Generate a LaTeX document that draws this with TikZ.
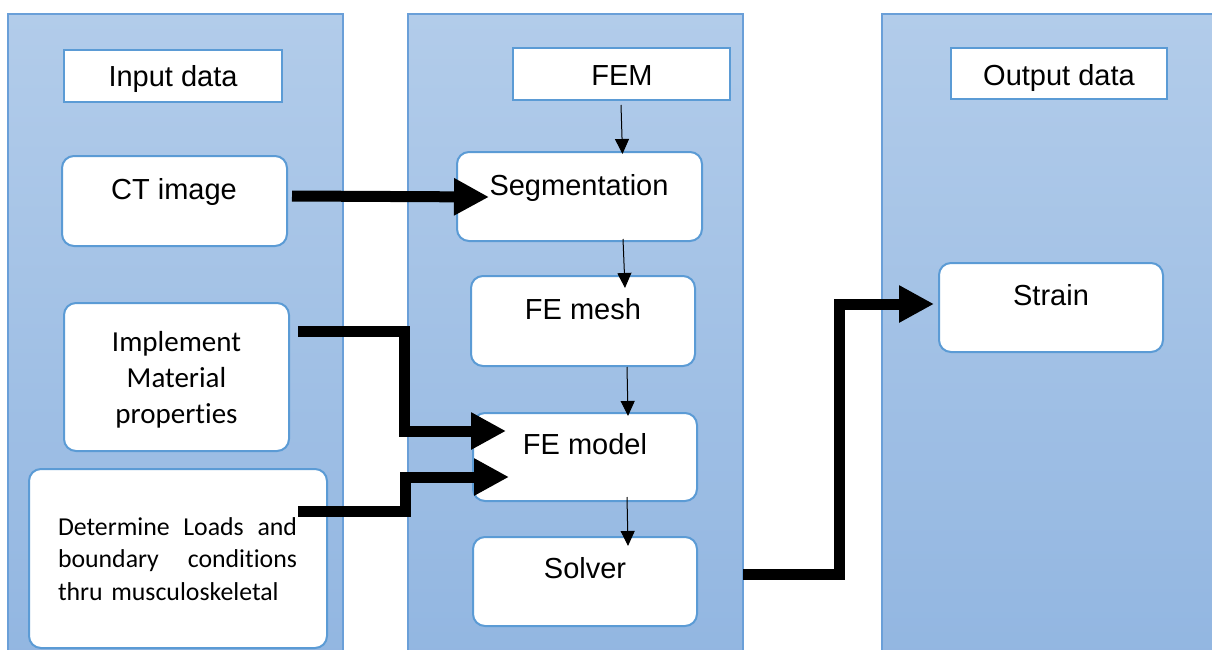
\documentclass[tikz,border=0pt]{standalone}
\usepackage{fontspec}
\setmainfont{Liberation Sans}
\newfontfamily\calibri[Ligatures=NoCommon]{Carlito}
\usetikzlibrary{arrows.meta,calc}
\definecolor{panelbd}{HTML}{6A9FD8}
\definecolor{boxbd}{HTML}{5B9BD5}
\definecolor{ptop}{HTML}{B2CCEA}
\definecolor{pbot}{HTML}{92B6E1}
\begin{document}
\begin{tikzpicture}[x=1pt,y=-1pt,
  panel/.style={draw=panelbd, line width=1.2pt, top color=ptop, bottom color=pbot},
  titlebox/.style={draw=boxbd, line width=2pt, fill=white, inner sep=0pt},
  stepbox/.style={draw=boxbd, line width=2pt, fill=white, rounded corners=12pt, inner sep=0pt},
  lbl/.style={font=\fontsize{29}{34}\selectfont, inner sep=0pt, anchor=base},
  thinarrow/.style={line width=1pt, -{Triangle[length=15pt,width=14pt]}},
  thickarrow/.style={line width=11pt, line join=miter, -{Triangle[length=35pt,width=35pt]}},
]
\useasboundingbox (0,0) rectangle (1212,650);
% panels
\draw[panel] (8,14) rectangle (343,662);
\draw[panel] (408,14) rectangle (743,662);
\draw[panel] (882,14) rectangle (1222,662);

% boxes
\node[titlebox, minimum width=218pt, minimum height=52pt] (inp) at (173,76) {};
\node[stepbox, minimum width=225pt, minimum height=90pt] (ct) at (174.5,201) {};
\node[stepbox, minimum width=225pt, minimum height=148pt] (imp) at (176.5,377) {};
\node[stepbox, minimum width=298pt, minimum height=179pt] (det) at (178,558.5) {};
\node[titlebox, minimum width=217pt, minimum height=52pt] (fem) at (621.5,74) {};
\node[stepbox, minimum width=245pt, minimum height=89pt] (seg) at (579.5,196.5) {};
\node[stepbox, minimum width=224pt, minimum height=90pt] (mesh) at (583,321) {};
\node[stepbox, minimum width=224pt, minimum height=88pt] (model) at (585,457) {};
\node[stepbox, minimum width=224pt, minimum height=89pt] (solver) at (585,581.5) {};
\node[titlebox, minimum width=216pt, minimum height=51pt] (out) at (1059,73.5) {};
\node[stepbox, minimum width=224pt, minimum height=89pt] (strain) at (1051,307.5) {};

% labels
\node[lbl] (inp-t) at (173,87) {Input data};
\node[lbl] (ct-t) at (174,199) {CT image};
\node[lbl] (fem-t) at (622,86) {FEM};
\node[lbl] (seg-t) at (579,195) {Segmentation};
\node[lbl] (mesh-t) at (583,319) {FE mesh};
\node[lbl] (model-t) at (585,454) {FE model};
\node[lbl] (solver-t) at (585,578) {Solver};
\node[lbl] (out-t) at (1059,86) {Output data};
\node[lbl] (strain-t) at (1051,305) {Strain};
\node[inner sep=0pt, anchor=base, text width=210pt, align=center,
      font=\calibri\fontsize{29}{36}\selectfont] (imp-t) at (176.5,351)
      {Implement\\Material\\properties};
\node[inner sep=0pt, anchor=base, text width=239pt, align=left,
      font=\calibri\fontsize{25.8}{32.5}\selectfont] (det-t) at (177.5,535)
      {\makebox[239pt][l]{Determine\hfill Loads\hfill and}\\\makebox[239pt][l]{boundary\hfill conditions}\\thru musculoskeletal};

% thin arrows
\draw[thinarrow] ($(fem.south)+(-0.5,4)$) -- ($(seg.north)+(43,3)$);
\draw[thinarrow] ($(seg.south)+(43.5,-3)$) -- ($(mesh.north)+(42,13)$);
\draw[thinarrow] ($(mesh.south)+(44,0)$) -- ($(model.north)+(43,4)$);
\draw[thinarrow] ($(model.south)+(42,-5)$) -- ($(solver.north)+(43,10)$);

% thick arrows
\draw[thickarrow] ($(ct.east)+(4,-5)$) -- ($(seg.west)+(33,0.5)$);
\draw[thickarrow] ($(imp.east)+(8,-46)$) -- ++(106,0) |- ($(model.west)+(34,-26)$);
\draw[thickarrow] ($(det.east)+(-30,-47.5)$) -- ++(107,0) |- ($(model.west)+(37,20)$);
\draw[thickarrow] ($(solver.east)+(45,-7.5)$) -- ++(96,0) |- ($(strain.west)+(-4,-3.5)$);
\end{tikzpicture}
\end{document}
